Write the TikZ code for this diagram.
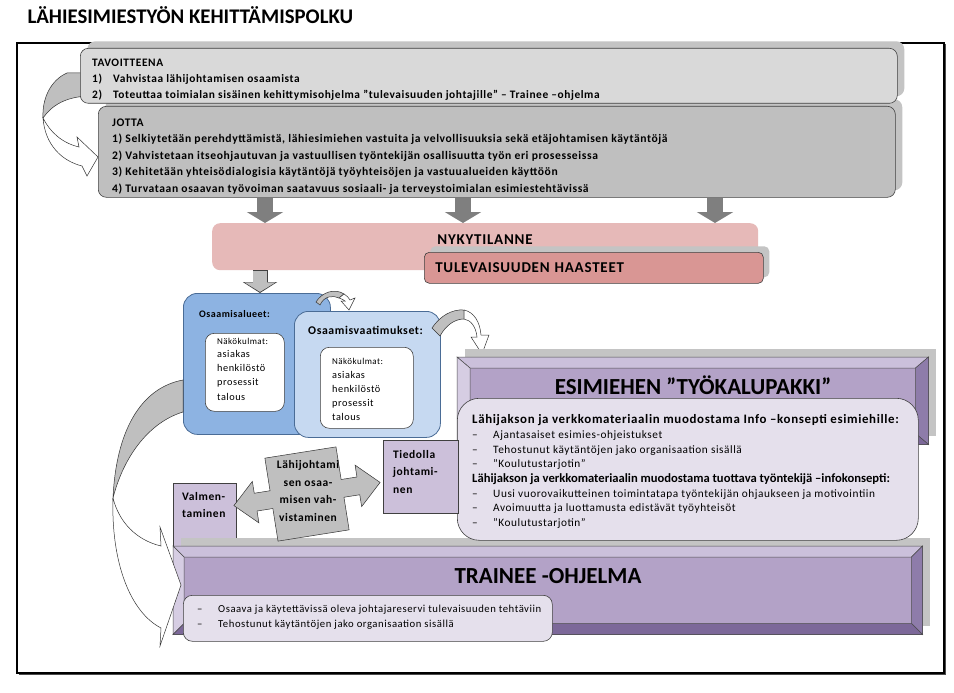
\documentclass[tikz,border=0pt]{standalone}
\usepackage{fontspec}
\setmainfont{Carlito}
\newfontfamily\wide{Carlito}[LetterSpace=5]
\usetikzlibrary{arrows.meta,positioning,shadows,calc}

\definecolor{graylt}{HTML}{D9D9D9}
\definecolor{graymd}{HTML}{BFBFBF}
\definecolor{grayshd}{HTML}{C4C4C4}
\definecolor{arrowdk}{HTML}{7F7F7F}
\definecolor{pinklt}{HTML}{E6B9B8}
\definecolor{pinkdk}{HTML}{D99694}
\definecolor{bluemd}{HTML}{8DB3E2}
\definecolor{bluelt}{HTML}{C6D9F1}
\definecolor{bluedk}{HTML}{4A6C96}
\definecolor{lilac}{HTML}{CCC0DA}
\definecolor{lilacface}{HTML}{B3A2C7}
\definecolor{lilactop}{HTML}{CBC0DB}
\definecolor{lilacleft}{HTML}{D6CDE3}
\definecolor{lilacright}{HTML}{8E7CAA}
\definecolor{lilacbot}{HTML}{7C6899}
\definecolor{lilacpale}{HTML}{E5E0EC}

\newcommand{\fsz}[2]{\fontsize{#1}{#2}\selectfont}
\newcommand{\itemdash}{\makebox[21pt][l]{–}}

\begin{document}
\begin{tikzpicture}[x=1pt, y=-1pt,
  box/.style={draw=black!75, line width=0.6pt, rounded corners=8pt,
              anchor=north west, inner sep=0pt},
  txt/.style={anchor=north west, inner sep=0pt, align=left},
  shd/.style={drop shadow={shadow xshift=#1, shadow yshift=#1,
              fill=grayshd, opacity=1}},
  bevel/.style={draw=black!70, line width=0.5pt},
  curv/.style={draw=black!80, line width=0.5pt},
  downarr/.style={line width=16pt, draw=arrowdk,
                  -{Triangle[width=36pt, length=11pt]}},
  head/.style={font=\bfseries\fsz{23}{26}},
]
  \useasboundingbox (0,0) rectangle (954,693);
  \fill[white] (0,0) rectangle (954,693);

  \node[anchor=base west, font=\bfseries\fsz{20.8}{24}] (title) at (24,24)
    {LÄHIESIMIESTYÖN KEHITTÄMISPOLKU};
  \node[draw, fill=white, line width=2pt, anchor=north west,
        minimum width=927pt, minimum height=630pt,
        drop shadow={shadow xshift=1.5pt, shadow yshift=-1.5pt,
                     fill=black!70, opacity=1}] (frame) at (16,42) {};

  % kaari: tavoitteet -> jotta
  \filldraw[curv, fill=graymd] (88,73) -- (67,73)
    .. controls (51,80) and (42,98) .. (43,118)
    .. controls (52,105) and (66,97) .. (88,96) -- cycle;
  \filldraw[curv, fill=white] (43,118)
    .. controls (45,145) and (62,161) .. (82,166) -- (87,176) -- (98,157)
    -- (77,137) -- (79,147) .. controls (62,143) and (50,132) .. (43,118) -- cycle;

  \node[box, fill=graymd, shd=7pt, minimum width=797pt, minimum height=91pt]
    (jotta) at (98,106) {};
  \node[txt, font=\wide\bfseries\fsz{11.6}{16.5},
        below right=12.3pt and 14pt of jotta.north west] (jottat)
    {JOTTA\\
     1) Selkiytetään perehdyttämistä, lähiesimiehen vastuita ja velvollisuuksia sekä etäjohtamisen käytäntöjä\\
     2) Vahvistetaan itseohjautuvan ja vastuullisen työntekijän osallisuutta työn eri prosesseissa\\
     3) Kehitetään yhteisödialogisia käytäntöjä työyhteisöjen ja vastuualueiden käyttöön\\
     4) Turvataan osaavan työvoiman saatavuus sosiaali- ja terveystoimialan esimiestehtävissä};

  \node[box, fill=graylt, shd=7pt, minimum width=817pt, minimum height=55pt]
    (tav) at (80,48) {};
  \node[txt, font=\wide\bfseries\fsz{11.4}{16},
        below right=11pt and 12pt of tav.north west] (tavt)
    {TAVOITTEENA\\
     \makebox[21pt][l]{1)}Vahvistaa lähijohtamisen osaamista\\
     \makebox[21pt][l]{2)}Toteuttaa toimialan sisäinen kehittymisohjelma ”tulevaisuuden johtajille” – Trainee –ohjelma};

  % nykytilanne ja haasteet
  \node[fill=pinklt, rounded corners=8pt, anchor=north west,
        minimum width=546pt, minimum height=47pt] (nyky) at (212,223) {};
  \node[font=\wide\bfseries\fsz{15}{18}] (nykyt) at (485,240) {NYKYTILANNE};
  \foreach \x in {265,463,715}
    \draw[downarr] (\x,0 |- jotta.south) -- (\x,0 |- nyky.north);

  \node[box, fill=pinkdk, rounded corners=5pt, shd=6pt,
        minimum width=339pt, minimum height=31pt, inner xsep=11pt,
        text width=317pt, align=left, font=\wide\bfseries\fsz{15}{18}]
    (tul) at (424,252) {TULEVAISUUDEN HAASTEET};

  % osaamisalueet ja -vaatimukset
  \node[box, draw=bluedk, fill=bluemd, rounded corners=14pt, line width=0.8pt,
        minimum width=147pt, minimum height=141pt] (osa) at (183,293) {};
  \node[txt, font=\wide\bfseries\fsz{10}{12},
        below right=17.5pt and 16pt of osa.north west] (osat) {Osaamisalueet:};
  \node[box, fill=white, rounded corners=9pt,
        minimum width=79pt, minimum height=78pt] (osain) at (205,333) {};
  \node[txt, font=\wide\fsz{10.3}{14.3},
        below right=5pt and 12pt of osain.north west] (osalist)
    {{\fsz{9}{12}Näkökulmat:}\\[-1.5pt]asiakas\\henkilöstö\\prosessit\\talous};

  \node[box, draw=bluedk, fill=bluelt, rounded corners=14pt, line width=0.8pt,
        minimum width=146pt, minimum height=126pt] (vaat) at (294,311) {};
  \node[txt, font=\wide\bfseries\fsz{11.8}{14},
        below right=15.5pt and 14pt of vaat.north west] (vaatt) {Osaamisvaatimukset:};
  \node[box, fill=white, rounded corners=9pt,
        minimum width=93pt, minimum height=81pt] (vaatin) at (320,347) {};
  \node[txt, font=\wide\fsz{10.3}{14},
        below right=11pt and 12pt of vaatin.north west] (vaatlist)
    {{\fsz{9}{12}Näkökulmat:}\\asiakas\\henkilöstö\\prosessit\\talous};

  \draw[downarr, draw=black!75, line width=15pt,
        -{Triangle[width=34pt, length=11pt]}] (260,0 |- nyky.south) -- (260,0 |- osa.north);
  \draw[downarr, draw=graymd, line width=13.4pt, shorten <=1pt, shorten >=1.1pt,
        -{Triangle[width=30.5pt, length=9.5pt]}] (260,0 |- nyky.south) -- (260,0 |- osa.north);

  % pienet kaaret
  \filldraw[curv, fill=graymd] (316,302) .. controls (322,292) and (335,288) .. (344,294)
    -- (339,298) .. controls (333,295) and (324,296) .. (320,305) -- cycle;
  \filldraw[curv, fill=white] (344,294) .. controls (347,296) and (349,298) .. (350,300)
    -- (355,298) -- (349,310) -- (341,301) -- (345,301)
    .. controls (344,300) and (342,299) .. (339,298) -- cycle;
  \filldraw[curv, fill=graymd] (432,328) .. controls (440,316) and (452,309) .. (464,310)
    -- (464,319) .. controls (455,319) and (446,325) .. (440,336) -- cycle;
  \filldraw[curv, fill=white] (464,310) .. controls (474,312) and (480,322) .. (481,335)
    -- (489,335) -- (482,354) -- (471,337) -- (477,337)
    .. controls (476,327) and (471,320) .. (464,319) -- cycle;

  % valmentaminen ja trainee
  \node[box, rounded corners=0pt, fill=lilac, minimum width=63pt, minimum height=65pt]
    (valm) at (173,483) {};
  \node[txt, font=\wide\bfseries\fsz{11.5}{17.5},
        below right=9pt and 9pt of valm.north west] (valmt) {Valmen-\\taminen};

  \node[anchor=north west, fill=lilacface, bevel, shd=8pt,
        minimum width=749pt, minimum height=88pt] (trainee) at (173,546) {};
  \node[anchor=north west, fill=lilacface, bevel, shd=8pt,
        minimum width=471pt, minimum height=87pt] (tool) at (457,357) {};

  \foreach \bx/\dx/\dy in {tool/13/11, trainee/11/11} {
    \filldraw[bevel, fill=lilactop] (\bx.north west) -- (\bx.north east)
      -- ($(\bx.north east)+(-\dx,\dy)$) -- ($(\bx.north west)+(\dx,\dy)$) -- cycle;
    \filldraw[bevel, fill=lilacleft] (\bx.north west) -- ($(\bx.north west)+(\dx,\dy)$)
      -- ($(\bx.south west)+(\dx,-\dy)$) -- (\bx.south west) -- cycle;
    \filldraw[bevel, fill=lilacright] (\bx.north east) -- (\bx.south east)
      -- ($(\bx.south east)+(-\dx,-\dy)$) -- ($(\bx.north east)+(-\dx,\dy)$) -- cycle;
    \filldraw[bevel, fill=lilacbot] (\bx.south west) -- (\bx.south east)
      -- ($(\bx.south east)+(-\dx,-\dy)$) -- ($(\bx.south west)+(\dx,-\dy)$) -- cycle;
  }
  \node[head] (toolt) at (693,385) {ESIMIEHEN ”TYÖKALUPAKKI”};
  \node[head] (traineet) at (548,576) {TRAINEE -OHJELMA};

  \node[box, fill=lilacpale, rounded corners=22pt,
        minimum width=461pt, minimum height=142pt] (info) at (457,398) {};
  \node[txt, font=\wide\fsz{11.3}{14.7},
        below right=16.5pt and 15pt of info.north west] (infot)
    {{\bfseries\fsz{12.9}{14.7}Lähijakson ja verkkomateriaalin muodostama Info –konsepti esimiehille:}\\
     \itemdash Ajantasaiset esimies-ohjeistukset\\
     \itemdash Tehostunut käytäntöjen jako organisaation sisällä\\
     \itemdash ”Koulutustarjotin”\\
     {\rmfamily\bfseries\fsz{12.6}{14.7}Lähijakson ja verkkomateriaalin muodostama tuottava työntekijä –infokonsepti:}\\
     \itemdash Uusi vuorovaikutteinen toimintatapa työntekijän ohjaukseen ja motivointiin\\
     \itemdash Avoimuutta ja luottamusta edistävät työyhteisöt\\
     \itemdash ”Koulutustarjotin”};

  \node[box, rounded corners=0pt, fill=lilac, minimum width=75pt, minimum height=73pt]
    (tied) at (383,440) {};
  \node[txt, font=\wide\bfseries\fsz{11.5}{17.5},
        below right=10pt and 10pt of tied.north west] (tiedt) {Tiedolla\\johtami-\\nen};

  % lähijohtamisen osaamisen vahvistaminen
  \begin{scope}[shift={(307,494)}, rotate=9]
    \filldraw[curv, fill=graymd] (-36,-42) -- (36,-42) -- (36,-9) -- (52,-9) -- (52,-21)
      -- (74,0) -- (52,21) -- (52,9) -- (36,9) -- (36,42) -- (-36,42) -- (-36,9)
      -- (-52,9) -- (-52,21) -- (-74,0) -- (-52,-21) -- (-52,-9) -- (-36,-9) -- cycle;
  \end{scope}
  \node[font=\wide\bfseries\fsz{11.5}{17.5}, align=center] (lj) at (308,491)
    {Lähijohtami\\sen osaa-\\misen vah-\\vistaminen};

  \node[box, fill=lilacpale, rounded corners=9pt,
        minimum width=369pt, minimum height=46pt] (trsub) at (183,595) {};
  \node[txt, font=\wide\fsz{10.7}{15},
        below right=9.8pt and 14pt of trsub.north west] (trsubt)
    {\itemdash Osaava ja käytettävissä oleva johtajareservi tulevaisuuden tehtäviin\\
     \itemdash Tehostunut käytäntöjen jako organisaation sisällä};

  % iso kaari: osaamisalueet -> trainee
  \filldraw[curv, fill=graymd] (183,380) .. controls (140,388) and (116,432) .. (113,498)
    .. controls (124,455) and (150,422) .. (183,412) -- cycle;
  \filldraw[curv, fill=white] (113,498) .. controls (111,562) and (130,612) .. (161,628)
    -- (160,646) -- (181,585) -- (160,527) -- (161,546)
    .. controls (136,540) and (119,522) .. (113,498) -- cycle;
\end{tikzpicture}
\end{document}
